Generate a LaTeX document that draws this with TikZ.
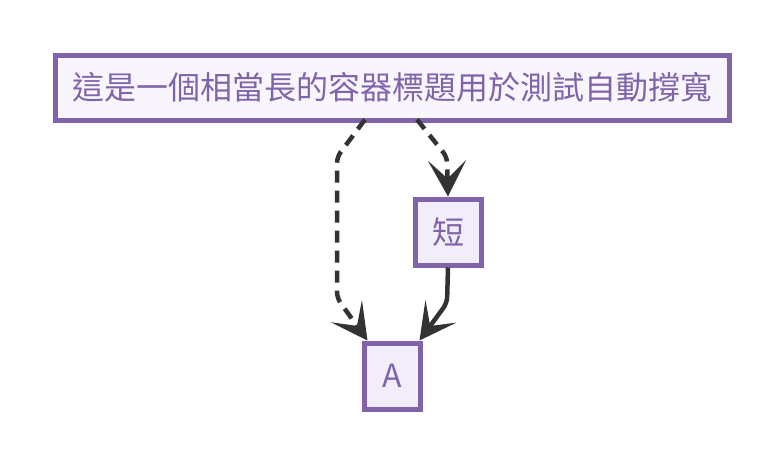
\documentclass[tikz,border=0pt]{standalone}
\usepackage{fontspec}
\setmainfont{Noto Sans CJK TC}
\usetikzlibrary{arrows.meta,calc}
\definecolor{bord}{HTML}{8064AA}
\definecolor{fillA}{HTML}{F8F6FC}
\definecolor{fillB}{HTML}{F2EEF9}
\definecolor{edgec}{HTML}{333333}
\tikzset{
  container/.style={draw=bord, line width=5pt, fill=fillA, text=bord, inner sep=0pt, font=\fontsize{32pt}{35pt}\selectfont},
  leaf/.style={draw=bord, line width=5pt, fill=fillB, text=bord, inner sep=0pt, font=\fontsize{32pt}{35pt}\selectfont},
  link/.style={draw=edgec, line width=4.5pt, rounded corners=6pt, -{Stealth[length=36pt,width=38pt,inset=18pt]}},
  dlink/.style={link, dash pattern=on 12pt off 8pt},
}
\begin{document}
\begin{tikzpicture}[x=1pt,y=-1pt]
\useasboundingbox (0,0) rectangle (784,464);
\node[container, minimum width=674pt, minimum height=65pt] (big) at (392,87.5) {這是一個相當長的容器標題用於測試自動撐寬};
\node[leaf, minimum width=66pt, minimum height=66pt] (short) at (448,232) {短};
\node[leaf, minimum width=56pt, minimum height=66pt] (a) at (392,376) {A};
\coordinate (s1) at ($(big.south)+(-27,-3)$);
\coordinate (s2) at ($(big.south)+(25,-3)$);
\draw[dlink] (s1) -- (337,157) -- (337,298) -- ($(a.north west)+(6,0)$);
\draw[dlink] (s2) -- (447,157) -- (short.north);
\draw[link] (short.south) -- (447,303) -- ($(a.north east)+(-3,0)$);
\end{tikzpicture}
\end{document}
